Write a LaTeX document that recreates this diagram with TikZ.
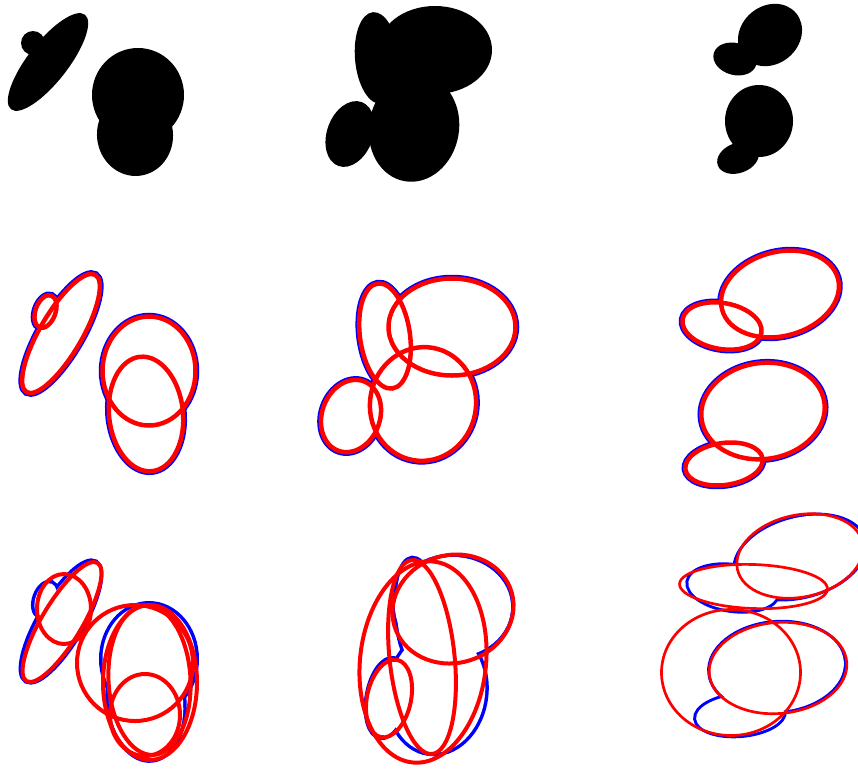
\documentclass[tikz,border=0pt]{standalone}
\usepackage{tikz}
\begin{document}
\begin{tikzpicture}[x=1pt, y=-1pt,
    blob/.style={fill=black},
    trueline/.style={draw=blue, line width=#1},
    hole/.style={fill=white},
    fitline/.style={draw=red, line width=#1},
]
    \clip (0,0) rectangle (858,768);
    \fill[white] (0,0) rectangle (858,768);

    % Row 1: the filled shapes
    \foreach \cx/\cy/\rx/\ry/\ang in {48/62/60/20/52, 33/43/12/12/0, 138/95/46/47/0, 135/135/38/41/6,
        377/58/22/46/5, 435/50/57/44/0, 414/128/45/54/-10, 350/134/23/34/-20,
        770/35/34/29/40, 735/59/22/16/-15, 759/121/34/36/0, 738/158/21.5/15/20}
        \fill[blob, rotate around={\ang:(\cx,\cy)}] (\cx,\cy) ellipse [x radius=\rx, y radius=\ry];

    % true ellipses (rows 2 and 3), outline of their union in blue
    \def\trueset{61/333.5/68/21/59.6/7.5pt, 45.5/311.5/17/10/70/7.5pt, 149/371/46.5/54.5/0/7.5pt, 146/414/37/57.5/6/7.5pt,
        385/336/25/53/8/7.5pt, 452/327/63.5/48.5/0/7.5pt, 423/404/53/57/-10/7.5pt, 351/416/29/37/-20/7.5pt,
        780/294/60/42/15/7.5pt, 722/326/40/23/-10/7.5pt, 763/411/62/48/8/7.5pt, 724/464/39/21/8/7.5pt,
        61/621.5/68/21/59.6/7pt, 45.5/599.5/17/10/70/7pt, 149/659/46.5/54.5/0/7pt, 146/702/37/57.5/6/7pt,
        417/615/20/56/5/7pt, 453/607/58/50/0/7pt, 437/692/48/61/-8/7pt, 387/698/19/39/-10/7pt,
        800/557/66/39/15/6pt, 733/588/45/22/-8/6pt, 777/667/67/44/5/6pt, 740/715/44/20/5/6pt}
    \foreach \cx/\cy/\rx/\ry/\ang/\w in \trueset
        \draw[trueline=\w, rotate around={\ang:(\cx,\cy)}] (\cx,\cy) ellipse [x radius=\rx, y radius=\ry];
    \foreach \cx/\cy/\rx/\ry/\ang/\w in \trueset
        \fill[hole, rotate around={\ang:(\cx,\cy)}] (\cx,\cy) ellipse [x radius=\rx, y radius=\ry];

    % fitted ellipses in red
    \foreach \cx/\cy/\rx/\ry/\ang/\w in {61/333.5/68/21/59.6/4.5pt, 45.5/311.5/17/10/70/4.5pt, 149/371/46.5/54.5/0/4.5pt, 146/414/37/57.5/6/4.5pt,
        385/336/25/53/8/4.5pt, 452/327/63.5/48.5/0/4.5pt, 423/404/53/57/-10/4.5pt, 351/416/29/37/-20/4.5pt,
        780/294/60/42/15/4.5pt, 722/326/40/23/-10/4.5pt, 763/411/62/48/8/4.5pt, 724/464/39/21/8/4.5pt,
        62/622/69/20/59/4pt, 64/609/27/35/0/4pt, 135/663/58/58/0/4pt, 150/682.5/47/77.5/0/4pt, 149.5/680/41/75/3/4pt, 145/715/35/41/0/4pt,
        453/609/61/54/15/4pt, 422/657/32.5/97.5/6/4pt, 423/662/63/101/-6/4pt, 389/698.5/22/39.5/-12/4pt,
        800/556/64/41/12/2.7pt, 753.5/586.5/74/22/-2/2.7pt, 778/668/69/45.5/5/2.7pt, 731/672.5/69.5/63/0/2.7pt}
        \draw[fitline=\w, rotate around={\ang:(\cx,\cy)}] (\cx,\cy) ellipse [x radius=\rx, y radius=\ry];
\end{tikzpicture}
\end{document}
